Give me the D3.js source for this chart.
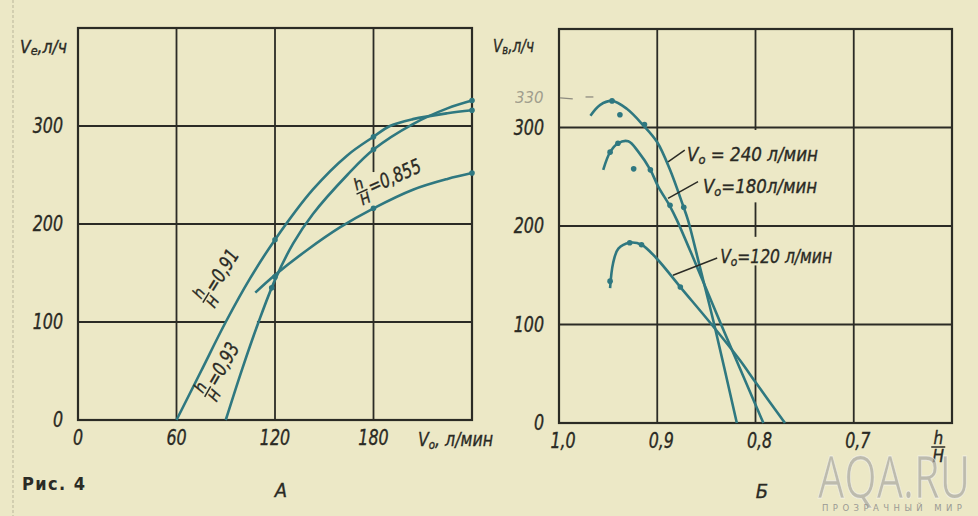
<!DOCTYPE html>
<html><head><meta charset="utf-8">
<script src="https://cdn.jsdelivr.net/npm/d3@7"></script>
<style>
html,body{margin:0;padding:0;background:#ece8c6;}
svg{display:block;}
.lbl{font-family:"DejaVu Sans Condensed","DejaVu Sans",sans-serif;font-style:italic;fill:#2a2a24;stroke:#2a2a24;stroke-width:0.35;}
</style></head><body>
<svg id="c" width="978" height="516"></svg>
<script>
// ---------------- DATA ----------------
// Panel A: Ve (л/ч) vs V0 (л/мин) for three h/H values
const aXTicks = [0, 60, 120, 180, 240];
const aXTickLabels = ["0", "60", "120", "180", ""];
const aYTicks = [0, 100, 200, 300, 400];
const aYTickLabels = ["0", "100", "200", "300", ""];
const aNames = ["=0,91", "=0,93", "=0,855"];
const aCurve091 = [[60,0],[75,50],[90,100],[105,145],[120,184],[143,235],[164,270],[180,289],[190,300],[204,307],[225,313],[240,316]];
const aCurve093 = [[90,0],[100,52],[110,100],[120,143],[131,180],[143,210],[164,250],[180,276],[204,302],[225,318],[240,326]];
const aCurve0855 = [[108,130],[120,148],[140,174],[160,197],[180,216],[204,235],[225,246],[240,252]];
const aDots = [[120,184],[120,146],[118,135],[180,289],[180,276],[180,216],[240,316],[240,326],[240,252]];

// Panel Б: Vв (л/ч) vs h/H for three V0 values
const bXTicks = [1.0, 0.9, 0.8, 0.7, 0.6];
const bXTickLabels = ["1,0", "0,9", "0,8", "0,7", ""];
const bYTicks = [0, 100, 200, 300, 400];
const bYTickLabels = ["0", "100", "200", "300", ""];
const bNames = ["240", "180", "120"];
const bCurve240 = [[0.968,312],[0.958,323],[0.946,327],[0.931,319],[0.914,302],[0.900,285],[0.887,257],[0.8735,220],[0.8687,206],[0.857,160],[0.842,100],[0.819,0]];
const bCurve180 = [[0.955,257],[0.948,275],[0.940,284],[0.9295,286],[0.919,275],[0.907,257],[0.899,240],[0.887,220],[0.880,206],[0.861,162],[0.835,100],[0.792,0]];
const bCurve120 = [[0.948,137],[0.945,162],[0.9396,177],[0.928,183],[0.916,181],[0.9006,167],[0.8765,138],[0.843,98],[0.816,64],[0.799,40],[0.770,0]];
const bDots = [[0.946,327],[0.938,313],[0.913,303],[0.873,219],[0.948,275],[0.940,284],[0.924,258],[0.907,257],[0.887,221],[0.948,144],[0.928,183],[0.916,181],[0.8765,138]];

// ---------------- DRAW ----------------
const svg = d3.select("#c");
const INK = "#2b2b25", TEAL = "#2f7880";
svg.append("rect").attr("width",978).attr("height",516).attr("fill","#ece8c6");
svg.append("line").attr("x1",13).attr("x2",13).attr("y1",0).attr("y2",516)
  .attr("stroke","#b9b59a").attr("stroke-width",1).attr("stroke-dasharray","3,2");

const ax = d3.scaleLinear().domain([0,240]).range([78,472]);
const ay = d3.scaleLinear().domain([0,400]).range([420,28]);
const bx = d3.scaleLinear().domain([1.0,0.6]).range([559,952]);
const by = d3.scaleLinear().domain([0,400]).range([423,29]);

function segs(lo, hi, gaps){
  let out=[], cur=lo;
  gaps.forEach(g=>{ out.push([cur,g[0]]); cur=g[1]; });
  out.push([cur,hi]); return out;
}
function grid(g, xs, ys, xTicks, yTicks, vGaps, hGaps){
  xTicks.forEach(t=>{
    segs(ys.domain()[0], ys.domain()[1], vGaps[t] || []).forEach(s=>{
      g.append("line").attr("x1",xs(t)).attr("x2",xs(t)).attr("y1",ys(s[0])).attr("y2",ys(s[1]))
        .attr("stroke",INK).attr("stroke-width",1.8);
    });
  });
  yTicks.forEach(t=>{
    segs(xs.domain()[0], xs.domain()[1], hGaps[t] || []).forEach(s=>{
      g.append("line").attr("y1",ys(t)).attr("y2",ys(t)).attr("x1",xs(s[0])).attr("x2",xs(s[1]))
        .attr("stroke",INK).attr("stroke-width",1.8);
    });
  });
  g.append("rect").attr("x",Math.min(...xs.range())).attr("y",Math.min(...ys.range()))
    .attr("width",Math.abs(xs.range()[1]-xs.range()[0])).attr("height",Math.abs(ys.range()[1]-ys.range()[0]))
    .attr("fill","none").attr("stroke",INK).attr("stroke-width",2.2);
}
function ticks(g, xs, ys, xTicks, xLabels, yTicks, yLabels, xOff){
  yTicks.forEach((t,i)=>{
    if(!yLabels[i]) return;
    g.append("text").attr("class","lbl cond").attr("x",xs.range()[0]-15).attr("y",ys(t)+7)
      .attr("text-anchor","end").attr("font-size",21).text(yLabels[i]);
  });
  xTicks.forEach((t,i)=>{
    if(!xLabels[i]) return;
    g.append("text").attr("class","lbl cond").attr("x",xs(t)+xOff).attr("y",ys.range()[0]+25)
      .attr("text-anchor","middle").attr("font-size",21).text(xLabels[i]);
  });
}

// ---- Panel A ----
const gA = svg.append("g");
grid(gA, ax, ay, aXTicks, aYTicks, {180:[[217,253]]}, {100:[[90,109]]});
ticks(gA, ax, ay, aXTicks, aXTickLabels, aYTicks, aYTickLabels, 0);
const lineA = d3.line().x(d=>ax(d[0])).y(d=>ay(d[1])).curve(d3.curveCatmullRom.alpha(0.5));
[aCurve091, aCurve093, aCurve0855].forEach(c=>{
  gA.append("path").attr("d",lineA(c)).attr("fill","none").attr("stroke",TEAL).attr("stroke-width",2.6);
});
aDots.forEach(d=>gA.append("circle").attr("cx",ax(d[0])).attr("cy",ay(d[1])).attr("r",2.8).attr("fill",TEAL));

function fracLabel(g, px, py, ang, txt){
  const t = g.append("g").attr("transform",`translate(${px},${py}) rotate(${ang})`);
  t.append("text").attr("class","lbl").attr("x",0).attr("y",-3).attr("text-anchor","middle").attr("font-size",16).text("h");
  t.append("line").attr("x1",-6).attr("x2",6).attr("y1",0).attr("y2",0).attr("stroke",INK).attr("stroke-width",1.5);
  t.append("text").attr("class","lbl").attr("x",0).attr("y",13).attr("text-anchor","middle").attr("font-size",15).text("H");
  t.append("text").attr("class","lbl cond").attr("x",8).attr("y",6).attr("font-size",20).text(txt);
}
fracLabel(gA, ax(78), ay(125), -58, aNames[0]);
fracLabel(gA, ax(79), ay(29), -60, aNames[1]);
fracLabel(gA, ax(173), ay(233), -24, aNames[2]);

const tA = gA.append("text").attr("class","lbl").attr("x",20).attr("y",53).attr("font-size",18)
  .attr("textLength",47).attr("lengthAdjust","spacingAndGlyphs");
tA.append("tspan").text("V");
tA.append("tspan").attr("font-size",13).attr("dy",2).text("e");
tA.append("tspan").attr("dy",-2).text(",л/ч");
const xA = gA.append("text").attr("class","lbl").attr("x",418).attr("y",446).attr("font-size",20)
  .attr("textLength",75).attr("lengthAdjust","spacingAndGlyphs");
xA.append("tspan").text("V");
xA.append("tspan").attr("font-size",13).attr("dy",3).text("o");
xA.append("tspan").attr("dy",-3).text(", л/мин");

svg.append("text").attr("x",22).attr("y",490).attr("font-family","DejaVu Sans Condensed, DejaVu Sans, sans-serif")
  .attr("font-weight","bold").attr("font-size",18).attr("fill",INK)
  .attr("textLength",63).attr("lengthAdjust","spacing").text("Рис.  4");
svg.append("text").attr("class","lbl").attr("x",281).attr("y",497).attr("text-anchor","middle").attr("font-size",20).text("A");

// ---- Panel Б ----
const gB = svg.append("g");
grid(gB, bx, by, bXTicks, bYTicks, {0.8:[[160,189],[224,297.5]]}, {});
ticks(gB, bx, by, bXTicks, bXTickLabels, bYTicks, bYTickLabels, 4);
const lineB = d3.line().x(d=>bx(d[0])).y(d=>by(d[1])).curve(d3.curveCatmullRom.alpha(0.5));
[bCurve240, bCurve180, bCurve120].forEach(c=>{
  gB.append("path").attr("d",lineB(c)).attr("fill","none").attr("stroke",TEAL).attr("stroke-width",2.6);
});
bDots.forEach(d=>gB.append("circle").attr("cx",bx(d[0])).attr("cy",by(d[1])).attr("r",2.8).attr("fill",TEAL));

const bLegend = [
  {name:bNames[0], from:[0.889,265], to:[0.872,277], at:[0.8697,266], sp:" = ", gap:" ", w:131},
  {name:bNames[1], from:[0.889,228], to:[0.8585,245], at:[0.8534,233], sp:"=", gap:"", w:114},
  {name:bNames[2], from:[0.884,150], to:[0.839,167.5], at:[0.836,162], sp:"=", gap:" ", w:112}
];
bLegend.forEach(l=>{
  gB.append("line").attr("x1",bx(l.from[0])).attr("y1",by(l.from[1])).attr("x2",bx(l.to[0])).attr("y2",by(l.to[1]))
    .attr("stroke",INK).attr("stroke-width",1.5);
  const t = gB.append("text").attr("class","lbl").attr("x",bx(l.at[0])).attr("y",by(l.at[1])).attr("font-size",19)
    .attr("textLength",l.w).attr("lengthAdjust","spacingAndGlyphs");
  t.append("tspan").text("V");
  t.append("tspan").attr("font-size",13).attr("dy",3).text("o");
  t.append("tspan").attr("dy",-3).text(l.sp + l.name + l.gap + "л/мин");
});

const tB = gB.append("text").attr("class","lbl").attr("x",493).attr("y",52).attr("font-size",18)
  .attr("textLength",41).attr("lengthAdjust","spacingAndGlyphs");
tB.append("tspan").text("V");
tB.append("tspan").attr("font-size",13).attr("dy",2).text("в");
tB.append("tspan").attr("dy",-2).text(",л/ч");

const fx = bx(0.614), fy = by(0)+24;
gB.append("text").attr("class","lbl").attr("x",fx).attr("y",fy-3).attr("text-anchor","middle").attr("font-size",17).text("h");
gB.append("line").attr("x1",fx-7).attr("x2",fx+7).attr("y1",fy).attr("y2",fy).attr("stroke",INK).attr("stroke-width",1.5);
gB.append("text").attr("class","lbl").attr("x",fx).attr("y",fy+15).attr("text-anchor","middle").attr("font-size",17).text("H");
svg.append("text").attr("class","lbl").attr("x",762).attr("y",498).attr("text-anchor","middle").attr("font-size",20).text("Б");

// condense tick-style labels
svg.selectAll("text.cond").each(function(){
  const w = this.getComputedTextLength();
  d3.select(this).attr("textLength", w*0.84).attr("lengthAdjust","spacingAndGlyphs");
});

// pencil annotation
svg.append("text").attr("x",515).attr("y",103).attr("font-family","DejaVu Sans, sans-serif").attr("font-style","italic")
  .attr("font-size",15).attr("fill","#8e8c80").attr("opacity",0.8).text("330");
svg.append("line").attr("x1",bx(0.999)).attr("x2",bx(0.986)).attr("y1",by(330)).attr("y2",by(329)).attr("stroke","#8e8c80").attr("stroke-width",1.3);
svg.append("line").attr("x1",bx(0.973)).attr("x2",bx(0.965)).attr("y1",by(331)).attr("y2",by(331)).attr("stroke","#8e8c80").attr("stroke-width",1.3);

// watermark
svg.append("text").attr("x",818).attr("y",498).attr("font-family","Open Sans, sans-serif").attr("font-weight",400)
  .attr("font-size",58).attr("fill","#a9a8a2").attr("fill-opacity",0.7).attr("stroke","#ffffff").attr("stroke-opacity",0.5).attr("stroke-width",1)
  .attr("textLength",152).attr("lengthAdjust","spacingAndGlyphs").text("AQA.RU");
svg.append("text").attr("x",822).attr("y",511).attr("font-family","DejaVu Sans, sans-serif").attr("font-size",8.5)
  .attr("fill","#9a9a94").attr("textLength",140).attr("lengthAdjust","spacing").text("ПРОЗРАЧНЫЙ МИР");
</script>
</body></html>
